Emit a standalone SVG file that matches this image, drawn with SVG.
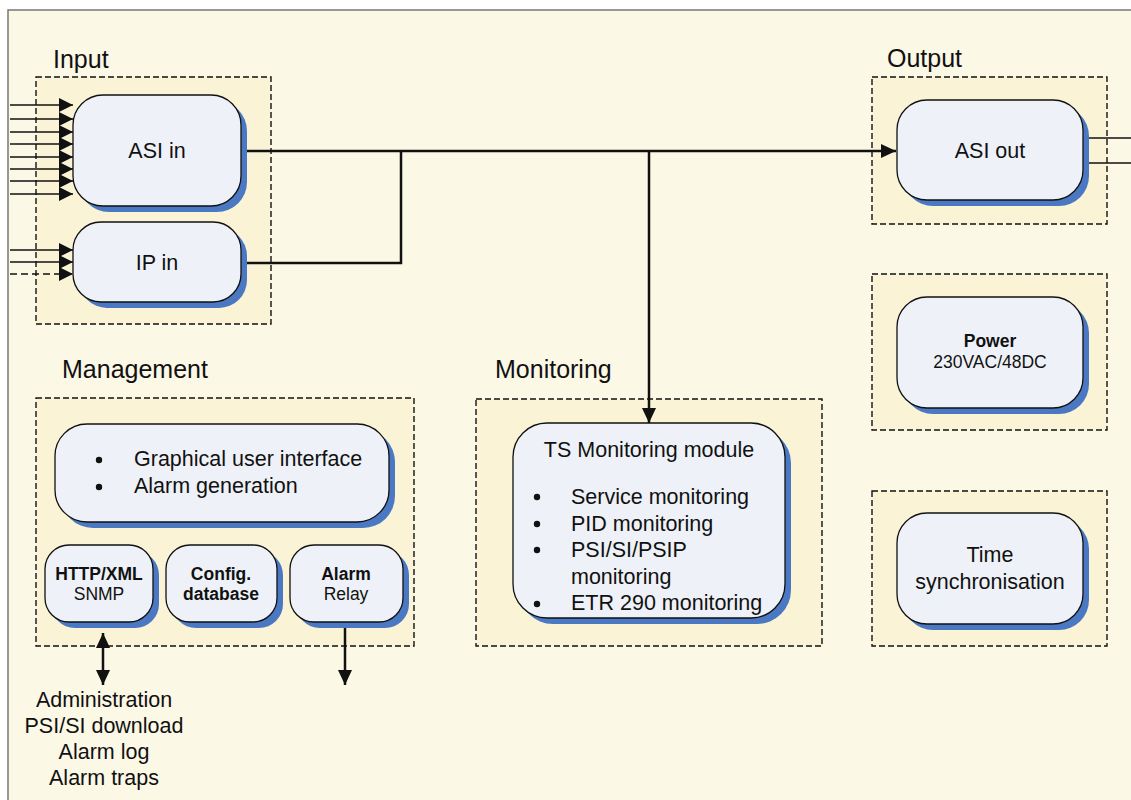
<svg xmlns="http://www.w3.org/2000/svg" width="1131" height="800" viewBox="0 0 1131 800">
<defs>
<style>
.grp{fill:#FAF3D5;stroke:#111;stroke-width:1.4;stroke-dasharray:6,3}
.sh{fill:#4A78C2}
.nd{fill:#EEF1F7;stroke:#111;stroke-width:1.3}
.lbl{font-family:"Liberation Sans",Arial,sans-serif;font-size:25px;fill:#111}
.t{font-family:"Liberation Sans",Arial,sans-serif;font-size:21.5px;fill:#111}
.s{font-family:"Liberation Sans",Arial,sans-serif;font-size:17.5px;fill:#111}
.b{font-weight:bold}
.ln{fill:none;stroke:#111;stroke-width:2.5}
.in{fill:none;stroke:#111;stroke-width:1.6}
</style>
<marker id="ah" markerUnits="userSpaceOnUse" markerWidth="15" markerHeight="14" refX="14" refY="7" orient="auto"><path d="M0,0 L14,7 L0,14 Z" fill="#111"/></marker>
<marker id="ahb" markerUnits="userSpaceOnUse" markerWidth="16" markerHeight="14" refX="15" refY="7" orient="auto"><path d="M0,0 L15,7 L0,14 Z" fill="#111"/></marker>
<marker id="ahs" markerUnits="userSpaceOnUse" markerWidth="16" markerHeight="14" refX="1" refY="7" orient="auto"><path d="M16,0 L1,7 L16,14 Z" fill="#111"/></marker>
</defs>
<rect x="0" y="0" width="1131" height="800" fill="#fff"/>
<rect x="8" y="10" width="1140" height="800" fill="#FCF8E6" stroke="#777" stroke-width="1.5"/>

<g id="group-input">
<text class="lbl" x="53" y="68">Input</text>
<rect class="grp" x="36" y="77" width="235" height="247"/>
</g>
<g id="group-output">
<text class="lbl" x="887" y="67">Output</text>
<rect class="grp" x="872" y="77" width="235" height="147"/>
</g>
<g id="group-power"><rect class="grp" x="872" y="274" width="235" height="156"/></g>
<g id="group-time"><rect class="grp" x="872" y="491" width="235" height="155"/></g>
<g id="group-management">
<text class="lbl" x="62" y="378">Management</text>
<rect class="grp" x="36" y="398" width="378" height="248"/>
</g>
<g id="group-monitoring">
<text class="lbl" x="495" y="378">Monitoring</text>
<rect class="grp" x="476" y="399" width="346" height="247"/>
</g>

<g id="connectors">
<line class="in" x1="10" y1="105" x2="73" y2="105" marker-end="url(#ah)"/>
<line class="in" x1="10" y1="119" x2="73" y2="119" marker-end="url(#ah)"/>
<line class="in" x1="10" y1="132" x2="73" y2="132" marker-end="url(#ah)"/>
<line class="in" x1="10" y1="144" x2="73" y2="144" marker-end="url(#ah)"/>
<line class="in" x1="10" y1="157" x2="73" y2="157" marker-end="url(#ah)"/>
<line class="in" x1="10" y1="169" x2="73" y2="169" marker-end="url(#ah)"/>
<line class="in" x1="10" y1="181" x2="73" y2="181" marker-end="url(#ah)"/>
<line class="in" x1="10" y1="194" x2="73" y2="194" marker-end="url(#ah)"/>
<line class="in" x1="10" y1="250" x2="73" y2="250" marker-end="url(#ah)"/>
<line class="in" x1="10" y1="262" x2="73" y2="262" marker-end="url(#ah)"/>
<line class="in" x1="10" y1="274" x2="73" y2="274" stroke-dasharray="7,4" marker-end="url(#ah)"/>
<line class="ln" x1="241" y1="151" x2="896" y2="151" marker-end="url(#ahb)"/>
<polyline class="ln" points="241,263 401,263 401,151"/>
<line class="ln" x1="649" y1="151" x2="649" y2="423" stroke-width="3" marker-end="url(#ahb)"/>
<line class="in" x1="1083" y1="138" x2="1131" y2="138"/>
<line class="in" x1="1083" y1="163" x2="1131" y2="163"/>
<line class="ln" x1="103" y1="633" x2="103" y2="685" stroke-width="3" marker-start="url(#ahs)" marker-end="url(#ahb)"/>
<line class="ln" x1="345" y1="622" x2="345" y2="685" stroke-width="3" marker-end="url(#ahb)"/>
</g>

<g id="asi-in">
<rect class="sh" x="79" y="101" width="168" height="111" rx="30"/>
<rect class="nd" x="73" y="95" width="168" height="111" rx="30"/>
<text class="t" x="157" y="158" text-anchor="middle">ASI in</text>
</g>
<g id="ip-in">
<rect class="sh" x="79" y="228" width="168" height="80" rx="28"/>
<rect class="nd" x="73" y="222" width="168" height="80" rx="28"/>
<text class="t" x="157" y="270" text-anchor="middle">IP in</text>
</g>
<g id="asi-out">
<rect class="sh" x="903" y="106" width="186" height="100" rx="30"/>
<rect class="nd" x="897" y="100" width="186" height="100" rx="30"/>
<text class="t" x="990" y="158" text-anchor="middle">ASI out</text>
</g>
<g id="power">
<rect class="sh" x="903" y="303" width="186" height="111" rx="30"/>
<rect class="nd" x="897" y="297" width="186" height="111" rx="30"/>
<text class="s b" x="990" y="347" text-anchor="middle">Power</text>
<text class="s" x="990" y="368" text-anchor="middle">230VAC/48DC</text>
</g>
<g id="time-sync">
<rect class="sh" x="903" y="519" width="186" height="111" rx="30"/>
<rect class="nd" x="897" y="513" width="186" height="111" rx="30"/>
<text class="t" x="990" y="562" text-anchor="middle">Time</text>
<text class="t" x="990" y="589" text-anchor="middle">synchronisation</text>
</g>
<g id="gui">
<rect class="sh" x="61" y="430" width="334" height="98" rx="32"/>
<rect class="nd" x="55" y="424" width="334" height="98" rx="32"/>
<circle cx="99" cy="460" r="3.2" fill="#111"/>
<circle cx="99" cy="487" r="3.2" fill="#111"/>
<text class="t" x="134" y="466">Graphical user interface</text>
<text class="t" x="134" y="493">Alarm generation</text>
</g>
<g id="http-xml">
<rect class="sh" x="51" y="551" width="108" height="77" rx="24"/>
<rect class="nd" x="45" y="545" width="108" height="77" rx="24"/>
<text class="s b" x="99" y="580" text-anchor="middle">HTTP/XML</text>
<text class="s" x="99" y="600" text-anchor="middle">SNMP</text>
</g>
<g id="config-db">
<rect class="sh" x="172" y="551" width="111" height="77" rx="24"/>
<rect class="nd" x="166" y="545" width="111" height="77" rx="24"/>
<text class="s b" x="221" y="580" text-anchor="middle">Config.</text>
<text class="s b" x="221" y="600" text-anchor="middle">database</text>
</g>
<g id="alarm-relay">
<rect class="sh" x="296" y="551" width="113" height="77" rx="24"/>
<rect class="nd" x="290" y="545" width="113" height="77" rx="24"/>
<text class="s b" x="346" y="580" text-anchor="middle">Alarm</text>
<text class="s" x="346" y="600" text-anchor="middle">Relay</text>
</g>
<g id="ts-monitoring">
<rect class="sh" x="519" y="429" width="272" height="195" rx="34"/>
<rect class="nd" x="513" y="423" width="272" height="195" rx="34"/>
<text class="t" x="649" y="457" text-anchor="middle">TS Monitoring module</text>
<circle cx="537" cy="497" r="3.2" fill="#111"/>
<circle cx="537" cy="524" r="3.2" fill="#111"/>
<circle cx="537" cy="550" r="3.2" fill="#111"/>
<circle cx="537" cy="604" r="3.2" fill="#111"/>
<text class="t" x="571" y="504">Service monitoring</text>
<text class="t" x="571" y="531">PID monitoring</text>
<text class="t" x="571" y="557">PSI/SI/PSIP</text>
<text class="t" x="571" y="584">monitoring</text>
<text class="t" x="571" y="610">ETR 290 monitoring</text>
</g>
<g id="mgmt-outputs">
<text class="t" x="104" y="707" text-anchor="middle">Administration</text>
<text class="t" x="104" y="733" text-anchor="middle">PSI/SI download</text>
<text class="t" x="104" y="759" text-anchor="middle">Alarm log</text>
<text class="t" x="104" y="785" text-anchor="middle">Alarm traps</text>
</g>
</svg>
